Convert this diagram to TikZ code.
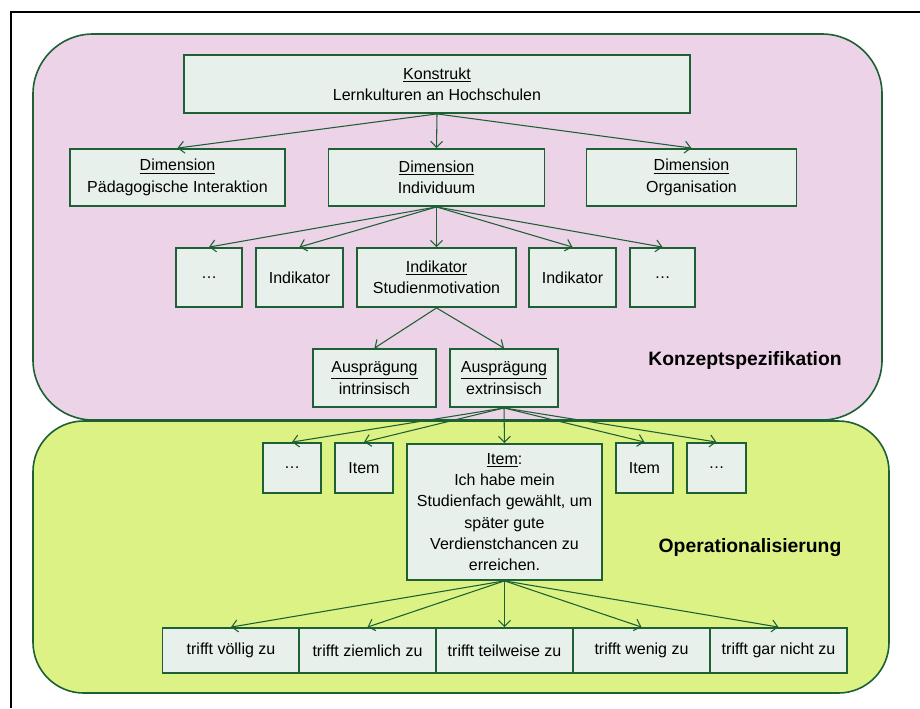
\documentclass[tikz,border=0pt]{standalone}
\usepackage{fontspec}
\setmainfont{Liberation Sans}
\usetikzlibrary{arrows.meta}
\definecolor{rahmgruen}{RGB}{28,96,52}
\definecolor{rosa}{RGB}{237,211,232}
\definecolor{hellgruen}{RGB}{221,242,133}
\definecolor{boxgrau}{RGB}{232,240,236}
\tikzset{
  kasten/.style ={draw=rahmgruen, fill=boxgrau, line width=1.4pt, align=center,
                  font=\fontsize{12}{16}\selectfont, inner sep=2pt},
  pfeil/.style  ={-{Straight Barb[length=4.5pt,width=9pt]}, draw=rahmgruen, line width=0.8pt},
  bereich/.style={draw=rahmgruen, line width=1.2pt},
  titel/.style  ={font=\fontsize{14.5}{17}\selectfont\bfseries},
}

\begin{document}
\begin{tikzpicture}[x=0.75pt,y=-0.75pt]
\useasboundingbox (0,0) rectangle (920,708);
% Rahmen und Bereiche
\draw[line width=1.5pt] (11,708) -- (11,12) -- (920,12);
\draw[bereich,fill=rosa,rounded corners=45pt] (33,34) rectangle (882,420);
\draw[bereich,fill=hellgruen,rounded corners=38pt] (33,421) rectangle (889,693);
\node[titel] (konzept) at (745,360) {Konzeptspezifikation};
\node[titel] (opera) at (750,548) {Operationalisierung};

% Konstrukt und Dimensionen
\node[kasten,minimum width=379.5pt,minimum height=43.5pt] (konstrukt) at (437,84)
  {\underline{Konstrukt}\\Lernkulturen an Hochschulen};
\node[kasten,minimum width=161.25pt,minimum height=42.75pt] (dimA) at (177.5,177.5)
  {\underline{Dimension}\\Pädagogische Interaktion};
\node[kasten,minimum width=162pt,minimum height=42.75pt] (dimB) at (436.5,177.5)
  {\underline{Dimension}\\Individuum};
\node[kasten,minimum width=157.5pt,minimum height=42.75pt] (dimC) at (691.5,177.5)
  {\underline{Dimension}\\Organisation};
\foreach \d in {dimA,dimB,dimC}
  \draw[pfeil] (konstrukt.south) -- (\d.north);

% Indikatoren
\node[kasten,minimum width=49.5pt,minimum height=44.25pt] (indA) at (209,277.5) {…};
\node[kasten,minimum width=65.25pt,minimum height=44.25pt] (indB) at (299.5,277.5) {Indikator};
\node[kasten,minimum width=119.25pt,minimum height=44.25pt] (indC) at (436.5,277.5)
  {\underline{Indikator}\\Studienmotivation};
\node[kasten,minimum width=65.25pt,minimum height=44.25pt] (indD) at (572.5,277.5) {Indikator};
\node[kasten,minimum width=48.75pt,minimum height=44.25pt] (indE) at (662.5,277.5) {…};
\foreach \i in {indA,indB,indC,indD,indE}
  \draw[pfeil] (dimB.south) -- (\i.north);

% Auspraegungen
\node[kasten,minimum width=92.25pt,minimum height=43.5pt] (auspA) at (374.5,378)
  {\underline{Ausprägung}\\intrinsisch};
\node[kasten,minimum width=81pt,minimum height=43.5pt] (auspB) at (504,378)
  {\underline{Ausprägung}\\extrinsisch};
\draw[pfeil] (indC.south) -- (auspA.north);
\draw[pfeil] (indC.south) -- (auspB.north);

% Items
\node[kasten,minimum width=43.5pt,minimum height=37.5pt] (itA) at (292,468) {…};
\node[kasten,minimum width=43.5pt,minimum height=37.5pt] (itB) at (364,468) {Item};
\node[kasten,minimum width=146.25pt,minimum height=102pt,anchor=north] (itC) at (504.5,443)
  {\underline{Item}:\\Ich habe mein\\Studienfach gewählt, um\\später gute\\Verdienstchancen zu\\erreichen.};
\node[kasten,minimum width=42.75pt,minimum height=37.5pt] (itD) at (644.5,468) {Item};
\node[kasten,minimum width=44.25pt,minimum height=37.5pt] (itE) at (716.5,468) {…};
\foreach \i in {itA,itB,itC,itD,itE}
  \draw[pfeil] (auspB.south) -- (\i.north);

% Antwortskala
\foreach \n/\x/\t in {1/231/trifft völlig zu, 2/367.5/trifft ziemlich zu,
    3/504.5/trifft teilweise zu, 4/641.5/trifft wenig zu, 5/778.5/trifft gar nicht zu}{
  \node[kasten,minimum width=102.75pt,minimum height=33.75pt] (skala\n) at (\x,650.5) {\t};
  \draw[pfeil] (itC.south) -- (skala\n.north);
}
\end{tikzpicture}
\end{document}
